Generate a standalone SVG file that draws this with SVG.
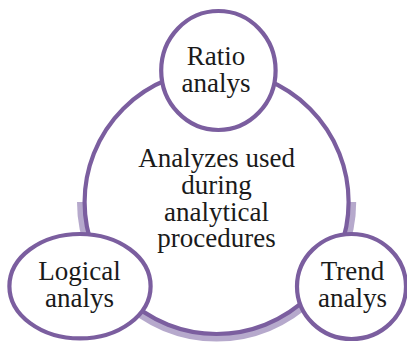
<svg xmlns="http://www.w3.org/2000/svg" width="407" height="343" viewBox="0 0 407 343">
<style>
.n{fill:#ffffff;stroke:#7b5e9f;stroke-width:4.2}
.t{font-family:"Liberation Serif","Times New Roman",serif;font-size:27px;fill:#1a1a1a;text-anchor:middle}
</style>
<rect width="407" height="343" fill="#ffffff"/>
<g id="center">
<path d="M77 202 A139.6 139.6 0 0 0 356.2 202 Z" fill="#b6a9cc"/>
<circle class="n" cx="216.6" cy="202" r="132"/>
<text class="t" x="216.6" y="167"><tspan x="216.6">Analyzes used</tspan><tspan x="216.6" dy="26.8">during</tspan><tspan x="216.6" dy="26.8">analytical</tspan><tspan x="216.6" dy="26.8">procedures</tspan></text>
</g>
<g id="ratio">
<ellipse class="n" cx="218.4" cy="70.5" rx="57.2" ry="59.5"/>
<text class="t" x="216" y="65"><tspan x="216">Ratio</tspan><tspan x="216" dy="26.8">analys</tspan></text>
</g>
<g id="logical">
<ellipse class="n" cx="80" cy="286.2" rx="70.6" ry="52.2"/>
<text class="t" x="79.5" y="280"><tspan x="79.5">Logical</tspan><tspan x="79.5" dy="26.8">analys</tspan></text>
</g>
<g id="trend">
<ellipse class="n" cx="351.5" cy="286.5" rx="54.5" ry="52.5"/>
<text class="t" x="352.5" y="280"><tspan x="352.5">Trend</tspan><tspan x="352.5" dy="26.8">analys</tspan></text>
</g>
<g id="connectors"/>
</svg>
